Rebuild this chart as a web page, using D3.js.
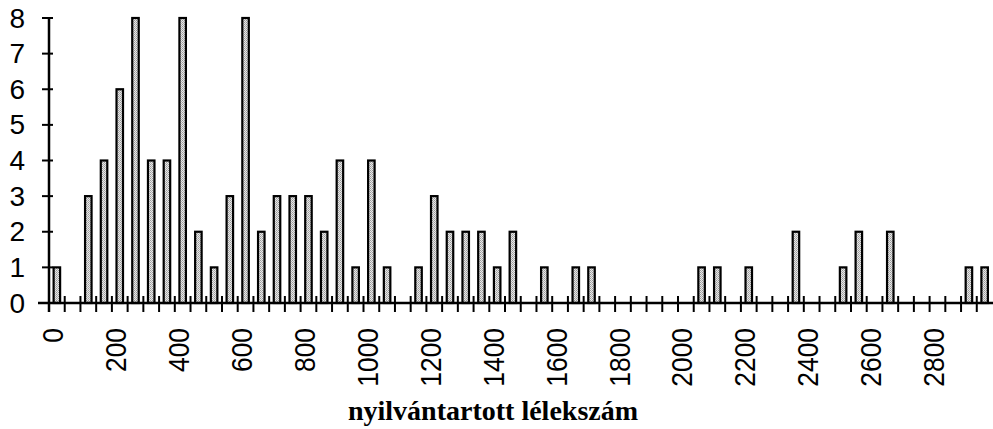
<!DOCTYPE html>
<html>
<head>
<meta charset="utf-8">
<script src="https://cdn.jsdelivr.net/npm/d3@7"></script>
<style>
  html, body { margin: 0; padding: 0; background: #fff; }
  svg { display: block; }
</style>
</head>
<body>
<svg id="chart" width="993" height="429"></svg>
<script>
// Bin starts (width 50) for "nyilvántartott lélekszám"
const binStarts = [0,50,100,150,200,250,300,350,400,450,500,550,600,650,700,750,800,850,900,950,
  1000,1050,1100,1150,1200,1250,1300,1350,1400,1450,1500,1550,1600,1650,1700,1750,1800,1850,1900,1950,
  2000,2050,2100,2150,2200,2250,2300,2350,2400,2450,2500,2550,2600,2650,2700,2750,2800,2850,2900,2950];
const counts = [1,0,3,4,6,8,4,4,8,2,1,3,8,2,3,3,3,2,4,1,
  4,1,0,1,3,2,2,2,1,2,0,1,0,1,1,0,0,0,0,0,
  0,1,1,0,1,0,0,2,0,0,1,2,0,2,0,0,0,0,1,1];
const xTickLabels = [0,200,400,600,800,1000,1200,1400,1600,1800,2000,2200,2400,2600,2800];
const yTicks = [0,1,2,3,4,5,6,7,8];
const xTitle = "nyilvántartott lélekszám";

const svg = d3.select("#chart");
const plotLeft = 49, plotRight = 992.5, plotTop = 18, plotBottom = 303;

const x = d3.scaleBand().domain(binStarts).range([plotLeft, plotRight]).paddingInner(0).paddingOuter(0);
const y = d3.scaleLinear().domain([0, 8]).range([plotBottom, plotTop]);

// stipple pattern
const defs = svg.append("defs");
const pat = defs.append("pattern").attr("id", "stip").attr("patternUnits", "userSpaceOnUse")
  .attr("width", 2).attr("height", 2);
pat.append("rect").attr("width", 2).attr("height", 2).attr("fill", "#e8e8e8");
pat.append("rect").attr("x", 0).attr("y", 0).attr("width", 1).attr("height", 1).attr("fill", "#9a9a9a");
pat.append("rect").attr("x", 1).attr("y", 1).attr("width", 1).attr("height", 1).attr("fill", "#b0b0b0");

const data = binStarts.map((b, i) => ({ b, v: counts[i] }));
const barW = 6.5;

svg.append("g").selectAll("rect").data(data.filter(d => d.v > 0)).join("rect")
  .attr("x", d => x(d.b) + x.bandwidth() / 2 - barW / 2)
  .attr("y", d => y(d.v))
  .attr("width", barW)
  .attr("height", d => y(0) - y(d.v))
  .attr("fill", "url(#stip)")
  .attr("stroke", "#000")
  .attr("stroke-width", 2.2);

// X axis line
svg.append("line").attr("x1", 38).attr("x2", 993).attr("y1", y(0)).attr("y2", y(0))
  .attr("stroke", "#000").attr("stroke-width", 2.5);
// X ticks at category boundaries
const boundaries = binStarts.map(b => x(b)).concat([x(binStarts[binStarts.length - 1]) + x.bandwidth()]);
svg.append("g").selectAll("line").data(boundaries.slice(1, boundaries.length - 1)).join("line")
  .attr("x1", d => d).attr("x2", d => d)
  .attr("y1", y(0) - 7).attr("y2", y(0) + 9)
  .attr("stroke", "#000").attr("stroke-width", 2);

// Y axis line
svg.append("line").attr("x1", plotLeft).attr("x2", plotLeft).attr("y1", plotTop).attr("y2", y(0) + 9)
  .attr("stroke", "#000").attr("stroke-width", 2.5);
svg.append("g").selectAll("line").data(yTicks).join("line")
  .attr("x1", plotLeft - 7).attr("x2", plotLeft + 4)
  .attr("y1", d => y(d)).attr("y2", d => y(d))
  .attr("stroke", "#000").attr("stroke-width", 2);

// Y labels
svg.append("g").selectAll("text").data(yTicks).join("text")
  .attr("x", 25).attr("y", d => y(d))
  .attr("text-anchor", "end").attr("dominant-baseline", "central")
  .attr("font-family", "'Liberation Sans', Arial, sans-serif")
  .attr("font-size", 28).attr("fill", "#000")
  .text(d => d);

// X labels (rotated)
svg.append("g").selectAll("text").data(xTickLabels).join("text")
  .attr("transform", d => `translate(${x(d) + x.bandwidth() / 2 - 4},328) rotate(-90) scale(0.88,1)`)
  .attr("text-anchor", "end").attr("dominant-baseline", "central")
  .attr("font-family", "'Liberation Sans', Arial, sans-serif")
  .attr("font-size", 30).attr("fill", "#000")
  .text(d => d);

// X title
svg.append("text").attr("x", 493).attr("y", 420).attr("text-anchor", "middle")
  .attr("font-family", "'Liberation Serif', 'Times New Roman', serif")
  .attr("font-weight", "bold").attr("font-size", 28).attr("fill", "#000")
  .text(xTitle);
</script>
</body>
</html>
